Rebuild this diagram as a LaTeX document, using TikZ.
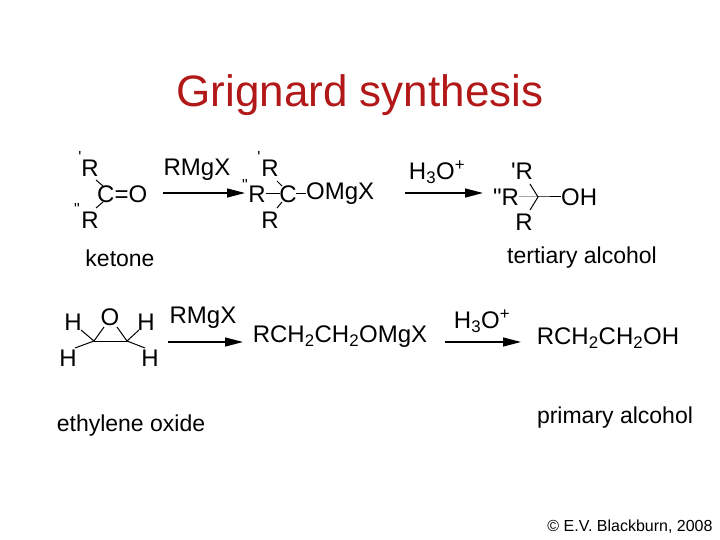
\documentclass[tikz,border=0pt]{standalone}
\usepackage{fontspec}
\setmainfont{Liberation Sans}[Ligatures=TeXOff]
\usetikzlibrary{arrows.meta}
\definecolor{tred}{RGB}{178,24,24}
\begin{document}
\begin{tikzpicture}[x=1pt,y=-1pt,
  t/.style={inner sep=0pt,font=\fontsize{24}{26}\selectfont},
  q/.style={inner sep=0pt,font=\fontsize{16}{16}\selectfont},
  lab/.style={inner sep=0pt,font=\fontsize{23}{25}\selectfont},
  bd/.style={line width=1pt},
  rx/.style={line width=1.3pt,-{Triangle[length=18pt,width=9pt]}}]
\useasboundingbox (0,0) rectangle (720,540);
\node[inner sep=0pt,text=tred,font=\fontsize{44}{48}\selectfont] (title) at (360,95) {Grignard synthesis};
% ketone
\node[t] (r1) at (90,168) {R};
\node[t,anchor=west] (co) at (97,194) {C=O};
\node[t] (r2) at (90,220) {R};
\node[q] (p1) at (80,157) {'};
\node[q] (p2) at (77,209) {"};
\draw[bd] (96,180) -- (103,186);
\draw[bd] (96,208) -- (103,202);
% arrow 1
\coordinate (a1s) at (163,193); \coordinate (a1e) at (245,193);
\draw[rx] (a1s) -- (a1e);
\node[t] (m1) at (197,170) {RMgX};
% intermediate
\node[t] (r3) at (270,168) {R};
\node[q] (p3) at (259,157) {'};
\node[t] (r4) at (257,194) {R};
\node[q] (p4) at (245,185) {"};
\node[t] (c2) at (288,194) {C};
\node[t,anchor=west] (om) at (306,194) {OMgX};
\node[t] (r5) at (270,220) {R};
\draw[bd] (266,194) -- (280,194);
\draw[bd] (296,194) -- (306,194);
\draw[bd] (277,181) -- (282,186);
\draw[bd] (277,208) -- (282,202);
% arrow 2
\coordinate (a2s) at (405,193); \coordinate (a2e) at (483,193);
\draw[rx] (a2s) -- (a2e);
\node[t] (h1) at (437,172) {H\textsubscript{3}O\textsuperscript{+}};
% tertiary alcohol
\node[t] (r6) at (522,171) {'R};
\node[t] (r7) at (506,197) {"R};
\node[t,anchor=west] (oh) at (561,197) {OH};
\node[t] (r8) at (524,222) {R};
\coordinate (cc) at (538,197);
\draw[bd] (519,197) -- (cc) -- (561,197);
\draw[bd] (530,184) -- (cc) -- (530,210);
\node[lab] (k) at (120,258) {ketone};
\node[lab] (ta) at (582,258) {tertiary alcohol};
% ethylene oxide
\node[t] (o) at (110,317) {O};
\node[t] (h2) at (73,322) {H};
\node[t] (h3) at (146,322) {H};
\node[t] (h4) at (68,358) {H};
\node[t] (h5) at (150,358) {H};
\coordinate (ca) at (94,341); \coordinate (cb) at (127,341);
\draw[bd] (ca) -- (cb);
\draw[bd] (ca) -- (104,327); \draw[bd] (cb) -- (117,327);
\draw[bd] (ca) -- (81,330); \draw[bd] (ca) -- (75,348);
\draw[bd] (cb) -- (139,330); \draw[bd] (cb) -- (145,348);
\coordinate (a3s) at (168,342); \coordinate (a3e) at (243,342);
\draw[rx] (a3s) -- (a3e);
\node[t] (m2) at (203,318) {RMgX};
\node[t] (i2) at (340,337) {RCH\textsubscript{2}CH\textsubscript{2}OMgX};
\coordinate (a4s) at (445,342); \coordinate (a4e) at (521,342);
\draw[rx] (a4s) -- (a4e);
\node[t] (h6) at (482,321) {H\textsubscript{3}O\textsuperscript{+}};
\node[t] (pa) at (608,338) {RCH\textsubscript{2}CH\textsubscript{2}OH};
\node[lab] (eo) at (131,426) {ethylene oxide};
\node[lab] (pal) at (615,418) {primary alcohol};
\node[inner sep=0pt,font=\fontsize{16}{17}\selectfont] (cp) at (630,527) {© E.V. Blackburn, 2008};
\end{tikzpicture}
\end{document}
